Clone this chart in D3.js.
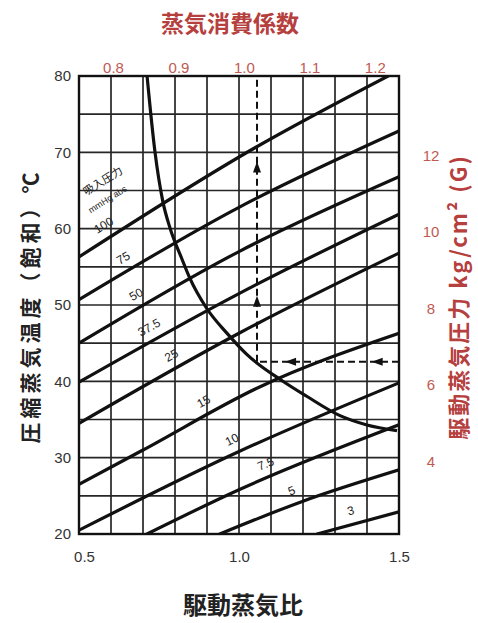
<!DOCTYPE html>
<html>
<head>
<meta charset="utf-8">
<script src="https://cdn.jsdelivr.net/npm/d3@7"></script>
<style>
	body { margin: 0; background: #fff; }
	svg { display: block; }
</style>
</head>
<body>
<div id="chart"></div>
<script>
// axis ticks
const ratioTicks = [0.5, 1.0, 1.5];
const tempTicks = [20, 30, 40, 50, 60, 70, 80];
const factorTicks = [0.8, 0.9, 1.0, 1.1, 1.2];
const pressureTicks = [4, 6, 8, 10, 12];

// suction pressure lines (mmHg abs): driving steam ratio -> compressed steam temp
const suctionLabels = ["100", "75", "50", "37.5", "25", "15", "10", "7.5", "5", "3"];
const suctionRatios = [
	[0.5, 1.05, 1.466],
	[0.5, 1.0, 1.5],
	[0.5, 1.0, 1.5],
	[0.5, 1.0, 1.5],
	[0.5, 1.0, 1.5],
	[0.5, 0.7, 1.066, 1.5],
	[0.5, 1.0, 1.5],
	[0.7125, 1.0, 1.5],
	[0.94, 1.2, 1.5],
	[1.244, 1.5]
];
const suctionTemps = [
	[56.3, 70.6, 80],
	[50.7, 62.8, 72.8],
	[45.0, 57.0, 66.8],
	[39.9, 51.5, 61.9],
	[34.5, 46.3, 56.8],
	[26.5, 31.0, 39.3, 46.3],
	[20.5, 30.8, 39.8],
	[20, 25.8, 34.3],
	[20, 24.3, 28.4],
	[20, 22.9]
];
// where each label sits along its line (driving steam ratio)
const suctionLabelAt = [0.6, 0.66, 0.70, 0.74, 0.81, 0.91, 0.997, 1.1, 1.18, 1.36];

// driving steam pressure -> steam consumption factor
const curvePressure = [14.07, 12.1, 10.8, 10.1, 9.3, 8.8, 8.0, 7.35, 6.8, 6.1, 5.7, 5.2, 4.95, 4.8];
const curveFactor = [0.852, 0.864, 0.876, 0.887, 0.905, 0.917, 0.943, 0.974, 1.004, 1.059, 1.096, 1.146, 1.188, 1.234];

// worked example (dashed)
const examplePressure = 6.6;
const exampleFactor = 1.02;

const WIDTH = 478;
const HEIGHT = 623;
const plot = {left: 79, right: 399, top: 76, bottom: 534};
const RED = "#b5403e";
const TICK_RED = "#bf5a52";
const NUM_FONT = "'Liberation Sans', Arial, sans-serif";
const CJK_FONT = "'Noto Sans CJK JP', 'Noto Sans', sans-serif";

const svg = d3.select("#chart").append("svg")
	.attr("width", WIDTH)
	.attr("height", HEIGHT);

const x = d3.scaleLinear().domain([0.5, 1.5]).range([plot.left, plot.right]);
const y = d3.scaleLinear().domain([20, 80]).range([plot.bottom, plot.top]);
const xTop = d3.scaleLinear().domain([0.748, 1.237]).range([plot.left, plot.right]);
const yRight = d3.scaleLinear().domain([2.1, 14.07]).range([plot.bottom, plot.top]);

// grid
const grid = svg.append("g").attr("class", "grid")
	.attr("stroke", "#262626")
	.attr("stroke-width", 1.7);

grid.selectAll("line.v")
	.data(d3.range(0, 11).map(i => 0.5 + i * 0.1))
	.join("line")
	.attr("class", "v")
	.attr("x1", d => x(d)).attr("x2", d => x(d))
	.attr("y1", plot.top).attr("y2", plot.bottom);

grid.selectAll("line.h")
	.data(d3.range(0, 13).map(i => 20 + i * 5))
	.join("line")
	.attr("class", "h")
	.attr("x1", plot.left).attr("x2", plot.right)
	.attr("y1", d => y(d)).attr("y2", d => y(d));

svg.append("rect")
	.attr("x", plot.left).attr("y", plot.top)
	.attr("width", plot.right - plot.left)
	.attr("height", plot.bottom - plot.top)
	.attr("fill", "none")
	.attr("stroke", "#111")
	.attr("stroke-width", 2.4);

// clip so curves stop at the frame
svg.append("clipPath").attr("id", "plot-clip")
	.append("rect")
	.attr("x", plot.left).attr("y", plot.top)
	.attr("width", plot.right - plot.left)
	.attr("height", plot.bottom - plot.top);

const lineGen = d3.line().curve(d3.curveMonotoneX);

const lines = svg.append("g")
	.attr("class", "suction-lines")
	.attr("clip-path", "url(#plot-clip)");

lines.selectAll("path")
	.data(suctionLabels.map((label, i) => ({label, ratios: suctionRatios[i], temps: suctionTemps[i]})))
	.join("path")
	.attr("fill", "none")
	.attr("stroke", "#111")
	.attr("stroke-width", 3.2)
	.attr("stroke-linecap", "round")
	.attr("d", d => lineGen(d.ratios.map((r, j) => [x(r), y(d.temps[j])])));

// consumption curve
svg.append("path")
	.attr("clip-path", "url(#plot-clip)")
	.attr("fill", "none")
	.attr("stroke", "#111")
	.attr("stroke-width", 3.2)
	.attr("d", d3.line().curve(d3.curveMonotoneX)(
		curveFactor.map((f, i) => [xTop(f), yRight(curvePressure[i])])
	));

// point on a polyline at a given ratio, pushed off along the normal
function placeOnLine(ratios, temps, r, offset) {
	let i = Math.max(0, Math.min(ratios.length - 2, d3.bisectRight(ratios, r) - 1));
	const x0 = x(ratios[i]), y0 = y(temps[i]);
	const x1 = x(ratios[i + 1]), y1 = y(temps[i + 1]);
	const t = (r - ratios[i]) / (ratios[i + 1] - ratios[i]);
	const px = x0 + t * (x1 - x0);
	const py = y0 + t * (y1 - y0);
	const ang = Math.atan2(y1 - y0, x1 - x0);
	return {
		x: px + Math.sin(ang) * offset,
		y: py - Math.cos(ang) * offset,
		angle: ang * 180 / Math.PI
	};
}

const labels = svg.append("g").attr("class", "line-labels")
	.style("font-family", NUM_FONT)
	.style("font-size", "12px")
	.attr("fill", "#222");

suctionLabels.forEach((label, i) => {
	const p = placeOnLine(suctionRatios[i], suctionTemps[i], suctionLabelAt[i], 14);
	labels.append("text")
		.attr("transform", `translate(${p.x},${p.y}) rotate(${p.angle})`)
		.attr("text-anchor", "middle")
		.attr("dy", "0.35em")
		.text(label);
});

// header for the line labels
const head1 = placeOnLine(suctionRatios[0], suctionTemps[0], 0.66, 52);
labels.append("text")
	.attr("transform", `translate(${head1.x},${head1.y}) rotate(${head1.angle})`)
	.attr("text-anchor", "middle")
	.attr("dy", "0.35em")
	.style("font-family", CJK_FONT)
	.style("font-size", "11px")
	.text("吸入圧力");
const head2 = placeOnLine(suctionRatios[0], suctionTemps[0], 0.645, 34);
labels.append("text")
	.attr("transform", `translate(${head2.x},${head2.y}) rotate(${head2.angle})`)
	.attr("text-anchor", "middle")
	.attr("dy", "0.35em")
	.style("font-size", "9px")
	.text("mmHg abs");

// dashed example path
const ex = xTop(exampleFactor);
const ey = yRight(examplePressure);
const dashed = svg.append("g").attr("class", "example")
	.attr("stroke", "#111")
	.attr("stroke-width", 2)
	.attr("stroke-dasharray", "7,4");
dashed.append("line")
	.attr("x1", ex).attr("x2", ex)
	.attr("y1", ey).attr("y2", plot.top);
dashed.append("line")
	.attr("x1", plot.right).attr("x2", ex)
	.attr("y1", ey).attr("y2", ey);

const arrows = svg.append("g").attr("fill", "#111");
[0.21, 0.68].forEach(f => {
	const ay = ey + (plot.top - ey) * f;
	arrows.append("path").attr("d", `M${ex},${ay - 6} L${ex - 4},${ay + 5} L${ex + 4},${ay + 5} Z`);
});
[0.15, 0.76].forEach(f => {
	const ax = plot.right + (ex - plot.right) * f;
	arrows.append("path").attr("d", `M${ax - 6},${ey} L${ax + 5},${ey - 4} L${ax + 5},${ey + 4} Z`);
});

// axes
function styleAxis(g, color) {
	g.select(".domain").remove();
	g.selectAll("text")
		.attr("fill", color)
		.style("font-family", NUM_FONT)
		.style("font-size", "15px");
}

svg.append("g")
	.attr("transform", `translate(${plot.left},0)`)
	.call(d3.axisLeft(y).tickValues(tempTicks).tickSize(0).tickPadding(8).tickFormat(d3.format("d")))
	.call(g => styleAxis(g, "#333"));

svg.append("g")
	.attr("transform", `translate(0,${plot.bottom})`)
	.call(d3.axisBottom(x).tickValues(ratioTicks).tickSize(0).tickPadding(17).tickFormat(d3.format(".1f")))
	.call(g => styleAxis(g, "#333"))
	.call(g => g.selectAll("text").filter(d => d === 0.5).attr("dx", 5));

svg.append("g")
	.attr("transform", `translate(0,${plot.top})`)
	.call(d3.axisTop(xTop).tickValues(factorTicks).tickSize(0).tickPadding(3).tickFormat(d3.format(".1f")))
	.call(g => styleAxis(g, TICK_RED));

svg.append("g")
	.attr("transform", `translate(${plot.right},0)`)
	.call(d3.axisRight(yRight).tickValues(pressureTicks).tickSize(0).tickPadding(0).tickFormat(d3.format("d")))
	.call(g => styleAxis(g, TICK_RED))
	.call(g => g.selectAll("text").attr("text-anchor", "middle").attr("x", 32));

// titles
svg.append("text")
	.attr("x", 230).attr("y", 32)
	.attr("text-anchor", "middle")
	.attr("fill", RED)
	.style("font-family", CJK_FONT)
	.style("font-size", "23px")
	.style("font-weight", "bold")
	.text("蒸気消費係数");

svg.append("text")
	.attr("x", 243).attr("y", 614)
	.attr("text-anchor", "middle")
	.attr("fill", "#222")
	.style("font-family", CJK_FONT)
	.style("font-size", "24px")
	.style("font-weight", "bold")
	.text("駆動蒸気比");

svg.append("text")
	.attr("transform", "translate(38,306) rotate(-90)")
	.attr("text-anchor", "middle")
	.attr("fill", "#222")
	.style("font-family", CJK_FONT)
	.style("font-size", "21px")
	.style("font-weight", "bold")
	.style("letter-spacing", "4px")
	.text("圧縮蒸気温度（飽和）℃");

svg.append("text")
	.attr("transform", "translate(467,297) rotate(-90)")
	.attr("text-anchor", "middle")
	.attr("fill", RED)
	.style("font-family", CJK_FONT)
	.style("font-size", "22px")
	.style("font-weight", "bold")
	.style("letter-spacing", "2px")
	.text("駆動蒸気圧力 kg/cm² (G)");
</script>
</body>
</html>
